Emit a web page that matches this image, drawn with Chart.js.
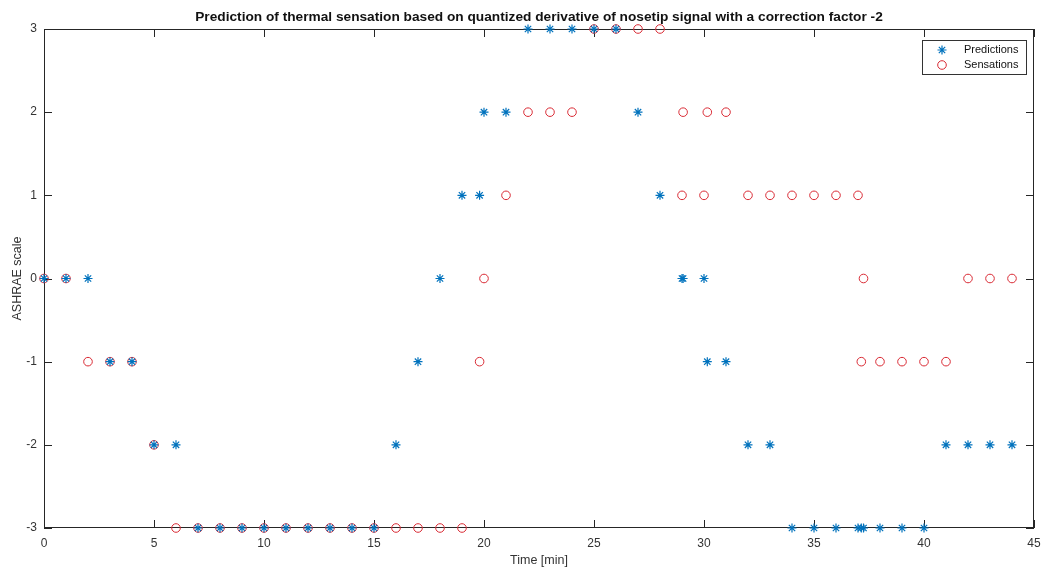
<!DOCTYPE html>
<html>
<head>
<meta charset="utf-8">
<script src="https://cdn.jsdelivr.net/npm/chart.js@4.4.1/dist/chart.umd.min.js"></script>
<style>
  html, body { margin: 0; padding: 0; background: #fff; }
  #wrap { width: 1049px; height: 568px; position: relative; }
</style>
</head>
<body>
<div id="wrap"><canvas id="myChart"></canvas></div>
<script>
// tempi di campionamento [min]
const timeMin = [0, 1, 2, 3, 4, 5, 6, 7, 8, 9, 10, 11, 12, 13, 14, 15, 16, 17, 18, 19, 19.8,
	20, 21, 22, 23, 24, 25, 26, 27, 28, 29, 29.05, 30, 30.15, 31, 32, 33, 34, 35, 36, 37,
	37.15, 37.25, 38, 39, 40, 41, 42, 43, 44];
// valori predetti (asterischi blu)
const predictions = [0, 0, 0, -1, -1, -2, -2, -3, -3, -3, -3, -3, -3, -3, -3, -3, -2, -1, 0, 1, 1,
	2, 2, 3, 3, 3, 3, 3, 2, 1, 0, 0, 0, -1, -1, -2, -2, -3, -3, -3, -3,
	-3, -3, -3, -3, -3, -2, -2, -2, -2];
// sensazioni dichiarate (cerchi rossi)
const sensations = [0, 0, -1, -1, -1, -2, -3, -3, -3, -3, -3, -3, -3, -3, -3, -3, -3, -3, -3, -3, -1,
	0, 1, 2, 2, 2, 3, 3, 3, 3, 1, 2, 1, 2, 2, 1, 1, 1, 1, 1, 1,
	-1, 0, -1, -1, -1, -1, 0, 0, 0];
const xTicks = [0, 5, 10, 15, 20, 25, 30, 35, 40, 45];
const yTicks = [-3, -2, -1, 0, 1, 2, 3];
const titleText = 'Prediction of thermal sensation based on quantized derivative of nosetip signal with a correction factor -2';

const blue = '#0072BD';
const red = '#d92b35';
const axisColor = '#262626';
const font = '"Liberation Sans", Arial, sans-serif';

const toPoints = (vals) => timeMin.map((t, i) => ({ x: t, y: vals[i] }));

// box completo + tacche interne stile matlab
const boxTicks = {
	id: 'boxTicks',
	beforeDatasetsDraw(chart) {
		const { ctx, chartArea: a, scales } = chart;
		ctx.save();
		ctx.strokeStyle = axisColor;
		ctx.lineWidth = 1;
		ctx.strokeRect(a.left + 0.5, a.top + 0.5, a.right - a.left - 1, a.bottom - a.top - 1);
		const len = 8;
		ctx.beginPath();
		xTicks.forEach(v => {
			const px = Math.round(scales.x.getPixelForValue(v)) + 0.5;
			ctx.moveTo(px, a.bottom); ctx.lineTo(px, a.bottom - len);
			ctx.moveTo(px, a.top); ctx.lineTo(px, a.top + len);
		});
		yTicks.forEach(v => {
			const py = Math.round(scales.y.getPixelForValue(v)) + 0.5;
			ctx.moveTo(a.left, py); ctx.lineTo(a.left + len, py);
			ctx.moveTo(a.right, py); ctx.lineTo(a.right - len, py);
		});
		ctx.stroke();
		// titolo centrato sugli assi (come matlab)
		ctx.fillStyle = '#111';
		ctx.font = 'bold 13.7px ' + font;
		ctx.textAlign = 'center';
		ctx.textBaseline = 'middle';
		ctx.fillText(titleText, (a.left + a.right) / 2, a.top - 12);
		ctx.restore();
	}
};

// legenda dentro il grafico, in alto a destra
const boxLegend = {
	id: 'boxLegend',
	afterDraw(chart) {
		const { ctx, chartArea: a } = chart;
		const w = 104, h = 34;
		const left = a.right - 8 - w, top = a.top + 11;
		ctx.save();
		ctx.fillStyle = '#fff';
		ctx.fillRect(left, top, w, h);
		ctx.strokeStyle = '#333';
		ctx.lineWidth = 1;
		ctx.strokeRect(left + 0.5, top + 0.5, w, h);
		chart.data.datasets.forEach((ds, i) => {
			const y = top + 10 + i * 15;
			ctx.save();
			ctx.strokeStyle = ds.borderColor;
			ctx.fillStyle = ds.backgroundColor;
			ctx.lineWidth = ds.borderWidth;
			Chart.helpers.drawPoint(ctx, {
				pointStyle: ds.pointStyle,
				radius: ds.pointRadius,
				borderWidth: ds.borderWidth
			}, left + 20, y);
			ctx.restore();
			ctx.fillStyle = '#111';
			ctx.font = '11px ' + font;
			ctx.textBaseline = 'middle';
			ctx.fillText(ds.label, left + 42, y);
		});
		ctx.restore();
	}
};

const ctx = document.getElementById('myChart');
new Chart(ctx, {
	type: 'scatter',
	data: {
		datasets: [{
			label: 'Predictions',
			data: toPoints(predictions),
			pointStyle: 'star',
			pointRadius: 4.5,
			borderWidth: 1.2,
			borderColor: blue,
			backgroundColor: blue,
			clip: false
		}, {
			label: 'Sensations',
			data: toPoints(sensations),
			pointStyle: 'circle',
			pointRadius: 4.3,
			borderWidth: 1,
			borderColor: red,
			backgroundColor: 'rgba(0,0,0,0)',
			clip: false
		}]
	},
	options: {
		responsive: true,
		maintainAspectRatio: false,
		animation: false,
		layout: { padding: { top: 29, right: 15, left: 0, bottom: 0 } },
		plugins: {
			legend: { display: false },
			tooltip: { enabled: false },
			title: { display: false }
		},
		scales: {
			x: {
				type: 'linear',
				min: 0,
				max: 45,
				afterBuildTicks: (s) => { s.ticks = xTicks.map(v => ({ value: v })); },
				afterFit: (s) => { s.height = 40; },
				grid: { display: false, drawTicks: false },
				border: { display: false },
				ticks: {
					color: '#333',
					padding: 8,
					font: { family: font, size: 12 }
				},
				title: {
					display: true,
					text: 'Time [min]',
					color: '#333',
					padding: { top: 2, bottom: 0 },
					font: { family: font, size: 12.5 }
				}
			},
			y: {
				type: 'linear',
				min: -3,
				max: 3,
				afterBuildTicks: (s) => { s.ticks = yTicks.map(v => ({ value: v })); },
				afterFit: (s) => { s.width = 44; },
				grid: { display: false, drawTicks: false },
				border: { display: false },
				ticks: {
					color: '#333',
					padding: 7,
					font: { family: font, size: 12 }
				},
				title: {
					display: true,
					text: 'ASHRAE scale',
					color: '#333',
					padding: { top: 10, bottom: 0 },
					font: { family: font, size: 12.5 }
				}
			}
		}
	},
	plugins: [boxTicks, boxLegend]
});
</script>
</body>
</html>
